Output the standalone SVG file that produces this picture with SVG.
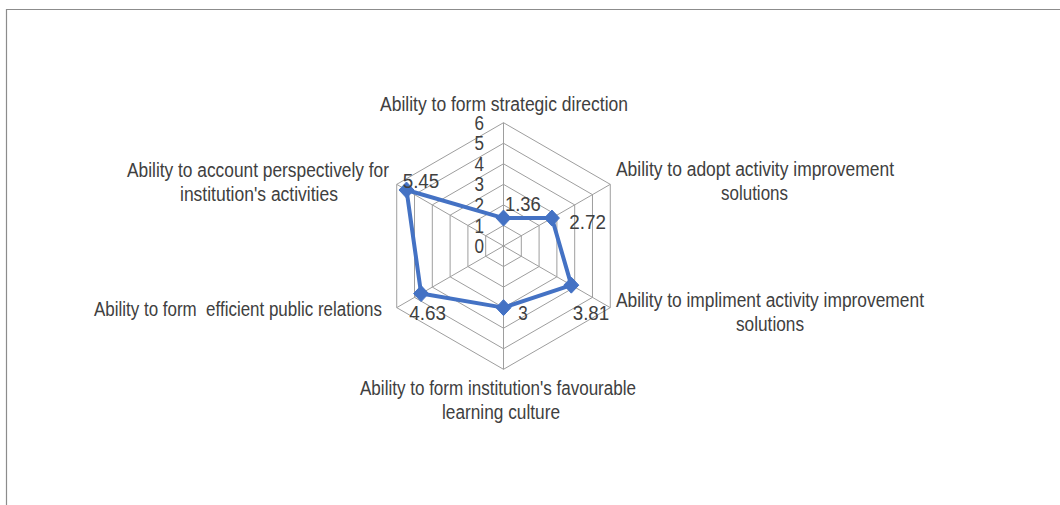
<svg xmlns="http://www.w3.org/2000/svg" width="1060" height="505" viewBox="0 0 1060 505">
  <style>
    .frame { fill: none; stroke: #8c8c8c; stroke-width: 1.2; }
    .grid { fill: none; stroke: #9e9e9e; stroke-width: 1; }
    .txt { font-family: "Liberation Sans", Arial, sans-serif; font-size: 19.5px; fill: #404040; }
    .mid { text-anchor: middle; }
    .end { text-anchor: end; }
    .series { fill: none; stroke: #4472C4; stroke-width: 4; stroke-linejoin: round; }
    .mk { fill: #4472C4; stroke: #4472C4; stroke-width: 1; }
  </style>
  <defs>
    <path id="dia" d="M0,-8 L7.5,0 L0,8 L-7.5,0 Z"/>
  </defs>
  <rect width="1060" height="505" fill="#ffffff"/>
  <path class="frame" d="M6.5,505 V9.5 H1060"/>

  <g id="grid">
    <polygon class="grid" points="503.5,225.45 521.3,235.73 521.3,256.28 503.5,266.55 485.7,256.28 485.7,235.73"/>
    <polygon class="grid" points="503.5,204.9 539.09,225.45 539.09,266.55 503.5,287.1 467.91,266.55 467.91,225.45"/>
    <polygon class="grid" points="503.5,184.35 556.89,215.18 556.89,276.83 503.5,307.65 450.11,276.83 450.11,215.18"/>
    <polygon class="grid" points="503.5,163.8 574.69,204.9 574.69,287.1 503.5,328.2 432.31,287.1 432.31,204.9"/>
    <polygon class="grid" points="503.5,143.25 592.48,194.63 592.48,297.38 503.5,348.75 414.52,297.38 414.52,194.63"/>
    <polygon class="grid" points="503.5,122.7 610.28,184.35 610.28,307.65 503.5,369.3 396.72,307.65 396.72,184.35"/>
    <path class="grid" d="M503.5,246 L503.5,122.7 M503.5,246 L610.28,184.35 M503.5,246 L610.28,307.65 M503.5,246 L503.5,369.3 M503.5,246 L396.72,307.65 M503.5,246 L396.72,184.35"/>
  </g>

  <g id="axis-labels" class="txt">
    <text x="474.5" y="253" textLength="9.5" lengthAdjust="spacingAndGlyphs">0</text>
    <text x="474.5" y="232.5" textLength="9.5" lengthAdjust="spacingAndGlyphs">1</text>
    <text x="474.5" y="211.9" textLength="9.5" lengthAdjust="spacingAndGlyphs">2</text>
    <text x="474.5" y="191.4" textLength="9.5" lengthAdjust="spacingAndGlyphs">3</text>
    <text x="474.5" y="170.8" textLength="9.5" lengthAdjust="spacingAndGlyphs">4</text>
    <text x="474.5" y="150.3" textLength="9.5" lengthAdjust="spacingAndGlyphs">5</text>
    <text x="474.5" y="129.7" textLength="9.5" lengthAdjust="spacingAndGlyphs">6</text>
  </g>

  <g id="cat-strategic" class="txt">
    <text x="380" y="111" textLength="248" lengthAdjust="spacingAndGlyphs">Ability to form strategic direction</text>
  </g>
  <g id="cat-adopt" class="txt">
    <text x="616" y="176" textLength="278" lengthAdjust="spacingAndGlyphs">Ability to adopt activity improvement</text>
    <text x="721" y="200" textLength="67" lengthAdjust="spacingAndGlyphs">solutions</text>
  </g>
  <g id="cat-impliment" class="txt">
    <text x="616" y="306.5" textLength="308" lengthAdjust="spacingAndGlyphs">Ability to impliment activity improvement</text>
    <text x="736" y="330.5" textLength="68" lengthAdjust="spacingAndGlyphs">solutions</text>
  </g>
  <g id="cat-culture" class="txt">
    <text x="360" y="395" textLength="276" lengthAdjust="spacingAndGlyphs">Ability to form institution's favourable</text>
    <text x="442" y="419" textLength="118" lengthAdjust="spacingAndGlyphs">learning culture</text>
  </g>
  <g id="cat-public" class="txt">
    <text x="94" y="316" textLength="288" lengthAdjust="spacingAndGlyphs" xml:space="preserve">Ability to form  efficient public relations</text>
  </g>
  <g id="cat-account" class="txt">
    <text x="127" y="177" textLength="262" lengthAdjust="spacingAndGlyphs">Ability to account perspectively for</text>
    <text x="180" y="201" textLength="158" lengthAdjust="spacingAndGlyphs">institution's activities</text>
  </g>

  <g id="connectors">
    <polygon class="series" points="503.5,218.05 551.91,218.05 571.31,285.15 503.5,307.65 421.1,293.57 406.51,190"/>
  </g>

  <g id="markers">
    <use href="#dia" class="mk" x="503.5" y="218.05"/>
    <use href="#dia" class="mk" x="551.91" y="218.05"/>
    <use href="#dia" class="mk" x="571.31" y="285.15"/>
    <use href="#dia" class="mk" x="503.5" y="307.65"/>
    <use href="#dia" class="mk" x="421.1" y="293.57"/>
    <use href="#dia" class="mk" x="406.51" y="190"/>
  </g>

  <g id="data-labels" class="txt">
    <text x="505" y="210.7" textLength="35.7" lengthAdjust="spacingAndGlyphs">1.36</text>
    <text x="569.3" y="229.3" textLength="36.7" lengthAdjust="spacingAndGlyphs">2.72</text>
    <text x="572.7" y="320" textLength="36.6" lengthAdjust="spacingAndGlyphs">3.81</text>
    <text x="518.3" y="320" textLength="9.5" lengthAdjust="spacingAndGlyphs">3</text>
    <text x="409.3" y="320" textLength="36.7" lengthAdjust="spacingAndGlyphs">4.63</text>
    <text x="402.7" y="188.3" textLength="36.6" lengthAdjust="spacingAndGlyphs">5.45</text>
  </g>
</svg>
